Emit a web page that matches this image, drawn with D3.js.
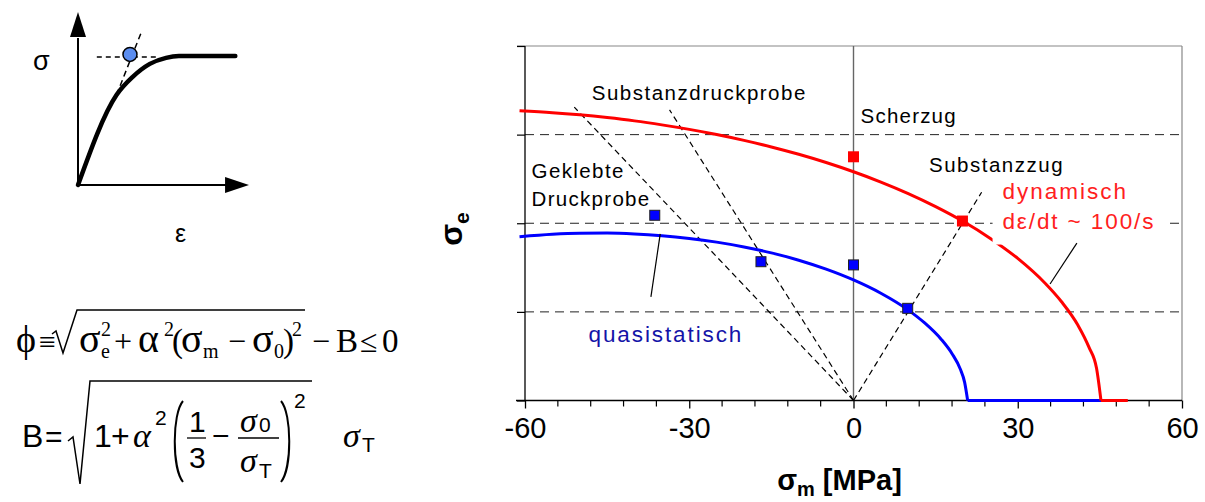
<!DOCTYPE html>
<html><head><meta charset="utf-8">
<script src="https://cdn.jsdelivr.net/npm/d3@7"></script>
<style>
body{margin:0;background:#fff}
svg{display:block;font-family:"Liberation Sans",Arial,sans-serif}
</style>
</head><body><svg id="c" width="1205" height="502"></svg>
<script>
// ---------------- data ----------------
const xTickLabels = [-60, -30, 0, 30, 60];
const yGridValues = [10, 20, 30];
// quasistatic yield surface (sigma_m, sigma_e)
const quasiSm = [-61, -55, -50, -45, -40, -35, -30, -25, -20, -15, -10, -5, 0, 5, 10, 13, 16, 18, 19.5, 20.3, 20.85];
const quasiSe = [18.49, 18.77, 18.88, 18.89, 18.80, 18.60, 18.29, 17.87, 17.33, 16.66, 15.83, 14.82, 13.60, 12.10, 10.20, 8.75, 6.92, 5.28, 3.55, 2.05, 0];
const quasiFlatSm = [20.85, 45.2];
// dynamic yield surface
const dynSm = [-61, -55, -50, -45, -40, -35, -30, -25, -20, -15, -10, -5, 0, 5, 10, 15, 20, 25, 30, 35, 38, 41, 43, 44.4, 45.2];
const dynSe = [32.69, 32.48, 32.23, 31.92, 31.55, 31.10, 30.59, 30.01, 29.35, 28.61, 27.78, 26.85, 25.81, 24.65, 23.35, 21.88, 20.22, 18.29, 16.03, 13.23, 11.14, 8.49, 6.02, 3.6, 0];
const dynFlatSm = [45.2, 50.1];
// measured points
const quasiPtSm = [-36.3, -16.9, 0, 9.9];
const quasiPtSe = [20.9, 15.66, 15.3, 10.4];
const dynPtSm = [0, 19.9];
const dynPtSe = [27.5, 20.25];
// load paths from origin (end points)
const pathNames = ["Geklebte Druckprobe", "Substanzdruckprobe", "Substanzzug"];
const pathEndSm = [-51.0, -33.6, 23.4];
const pathEndSe = [33.1, 32.8, 23.5];
// inset schematic sigma-epsilon curve (arbitrary units)
const insetEps = [0, 2.25, 3.2, 4.2, 5.15, 5.9, 9.2];
const insetSig = [0, 5.2, 6.25, 7.0, 7.35, 7.45, 7.45];

const SANS = "'Liberation Sans', Arial, sans-serif";
const SERIF = "'Liberation Serif', 'Times New Roman', serif";

// ---------------- chart ----------------
const svg = d3.select("#c");
const x = d3.scaleLinear().domain([-60, 60]).range([525, 1182]);
const y = d3.scaleLinear().domain([0, 40]).range([400.5, 46]);

const minorTicks = d3.range(-60, 61, 6);
// grid lines
svg.append("g").selectAll("line").data(yGridValues).join("line")
  .attr("x1", x(-60)).attr("x2", x(60)).attr("y1", d => y(d)).attr("y2", d => y(d))
  .attr("stroke", "#222").attr("stroke-width", 1).attr("stroke-dasharray", "9,6");
// top & right border
svg.append("line").attr("x1", x(-60) - 8).attr("x2", x(60)).attr("y1", y(40)).attr("y2", y(40))
  .attr("stroke", "#888").attr("stroke-width", 1.2);
svg.append("line").attr("x1", x(60)).attr("x2", x(60)).attr("y1", y(40)).attr("y2", y(0))
  .attr("stroke", "#888").attr("stroke-width", 1.2);
// zero vertical
svg.append("line").attr("x1", x(0)).attr("x2", x(0)).attr("y1", y(40)).attr("y2", y(0))
  .attr("stroke", "#666").attr("stroke-width", 1.4);

// axes
const xAxis = d3.axisBottom(x).tickValues(xTickLabels).tickSize(8).tickFormat(d3.format("d"));
const gx = svg.append("g").attr("transform", `translate(0,${y(0)})`).call(xAxis);
gx.select(".domain").remove();
gx.selectAll("line").attr("stroke", "#000").attr("stroke-width", 1.3);
gx.selectAll("text").attr("font-size", 29).attr("dy", "0.92em").attr("fill", "#000")
  .style("font-family", SANS)
  .text(d => d < 0 ? "-" + Math.abs(d) : d);
svg.append("g").selectAll("line").data(minorTicks.filter(d => !xTickLabels.includes(d))).join("line")
  .attr("x1", d => x(d)).attr("x2", d => x(d)).attr("y1", y(0)).attr("y2", y(0) + 6)
  .attr("stroke", "#000").attr("stroke-width", 1.2);
svg.append("line").attr("x1", x(-60) - 9).attr("x2", x(60)).attr("y1", y(0)).attr("y2", y(0))
  .attr("stroke", "#000").attr("stroke-width", 1.3);
const yAxis = d3.axisLeft(y).tickValues([0, 10, 20, 30, 40]).tickSize(8).tickFormat("");
const gy = svg.append("g").attr("transform", `translate(${x(-60)},0)`).call(yAxis);
gy.select(".domain").attr("stroke", "#000").attr("stroke-width", 1.3).attr("d", `M0,${y(40)}V${y(0)}`);
gy.selectAll("line").attr("stroke", "#000").attr("stroke-width", 1.2);

// load paths
svg.append("g").selectAll("line").data(pathEndSm).join("line")
  .attr("x1", x(0)).attr("y1", y(0))
  .attr("x2", d => x(d)).attr("y2", (d, i) => y(pathEndSe[i]))
  .attr("stroke", "#000").attr("stroke-width", 1.2).attr("stroke-dasharray", "6,4");

// curves
const line = d3.line().x(d => x(d[0])).y(d => y(d[1])).curve(d3.curveMonotoneX);
const flat = d3.line().x(d => x(d[0])).y(d => y(d[1]));
const quasi = quasiSm.map((s, i) => [s, quasiSe[i]]);
const dyn = dynSm.map((s, i) => [s, dynSe[i]]);
svg.append("path").attr("d", flat(quasiFlatSm.map(s => [s, 0]))).attr("fill", "none").attr("stroke", "#0000ff").attr("stroke-width", 3);
svg.append("path").attr("d", flat(dynFlatSm.map(s => [s, 0]))).attr("fill", "none").attr("stroke", "#ff0000").attr("stroke-width", 3);
svg.append("path").attr("d", line(quasi)).attr("fill", "none").attr("stroke", "#0000ff").attr("stroke-width", 3);
svg.append("path").attr("d", line(dyn)).attr("fill", "none").attr("stroke", "#ff0000").attr("stroke-width", 3);

// label boxes & labels
svg.append("rect").attr("x", x(25.4)).attr("y", y(25)).attr("width", x(57.8) - x(25.4)).attr("height", y(17.6) - y(25))
  .attr("fill", "#fff");
const lbl = (t, sm, se, opts = {}) => svg.append("text").attr("x", x(sm)).attr("y", y(se))
  .attr("font-size", opts.size || 20.5).attr("letter-spacing", opts.ls || 1.5)
  .attr("fill", opts.fill || "#000").style("font-family", SANS).text(t);
lbl("Substanzdruckprobe", -47.8, 33.9);
lbl("Scherzug", 1.3, 31.3, {ls: 1.2});
lbl("Substanzzug", 13.8, 25.8);
lbl("Geklebte", -58.8, 25.1, {ls: 1.4});
lbl("Druckprobe", -58.8, 22.0, {ls: 1.3});
lbl("dynamisch", 27.2, 22.7, {size: 22.5, ls: 2.0, fill: "#ff2020"});
lbl("d\u03b5/dt ~ 100/s", 27.2, 19.3, {size: 22.5, ls: 1.9, fill: "#ff2020"});
lbl("quasistatisch", -48.4, 6.65, {size: 22.5, ls: 1.9, fill: "#1414a8"});

// leader lines
svg.append("line").attr("x1", x(40.8)).attr("y1", y(17.76)).attr("x2", x(35.9)).attr("y2", y(13.15))
  .attr("stroke", "#000").attr("stroke-width", 1.2);
svg.append("line").attr("x1", x(-37.0)).attr("y1", y(11.7)).attr("x2", x(-35.3)).attr("y2", y(18.8))
  .attr("stroke", "#000").attr("stroke-width", 1.2);

// markers
svg.append("g").selectAll("rect").data(quasiPtSm).join("rect")
  .attr("x", d => x(d) - 5).attr("y", (d, i) => y(quasiPtSe[i]) - 5).attr("width", 10).attr("height", 10)
  .attr("fill", "#0000ff").attr("stroke", "#222").attr("stroke-width", 1);
svg.append("g").selectAll("rect").data(dynPtSm).join("rect")
  .attr("x", d => x(d) - 5.5).attr("y", (d, i) => y(dynPtSe[i]) - 5.5).attr("width", 11).attr("height", 11)
  .attr("fill", "#ff0000");

// axis titles
const xt = svg.append("text").attr("x", x(0) - 14).attr("y", 490).attr("text-anchor", "middle")
  .attr("font-size", 29).attr("font-weight", "bold").style("font-family", SANS);
xt.append("tspan").text("\u03c3");
xt.append("tspan").attr("font-size", 20).attr("dy", 6).text("m");
xt.append("tspan").attr("dy", -6).text(" [MPa]");
const yt = svg.append("text").attr("transform", "translate(462,229) rotate(-90)").attr("text-anchor", "middle")
  .attr("font-size", 32).attr("font-weight", "bold").style("font-family", SANS);
yt.append("tspan").text("\u03c3");
yt.append("tspan").attr("font-size", 21).attr("dy", 7).text("e");

// ---------------- inset ----------------
const ix = d3.scaleLinear().domain([0, 10]).range([78, 249]);
const iy = d3.scaleLinear().domain([0, 10]).range([185, 12]);
const ig = svg.append("g");
ig.append("line").attr("x1", ix(0)).attr("y1", iy(0)).attr("x2", ix(0)).attr("y2", iy(8.5)).attr("stroke", "#000").attr("stroke-width", 2);
ig.append("line").attr("x1", ix(0)).attr("y1", iy(0)).attr("x2", ix(8.7)).attr("y2", iy(0)).attr("stroke", "#000").attr("stroke-width", 2);
ig.append("path").attr("d", `M${ix(0)-8},${iy(8.55)}L${ix(0)},${iy(10)}L${ix(0)+8},${iy(8.55)}Z`).attr("fill", "#000");
ig.append("path").attr("d", `M${ix(8.6)},${iy(0)-8}L${ix(10)},${iy(0)}L${ix(8.6)},${iy(0)+8}Z`).attr("fill", "#000");
ig.append("line").attr("x1", ix(1.1)).attr("y1", iy(7.4)).attr("x2", ix(4.7)).attr("y2", iy(7.4))
  .attr("stroke", "#000").attr("stroke-width", 1.5).attr("stroke-dasharray", "5,4");
ig.append("line").attr("x1", ix(2.25)).attr("y1", iy(5.2)).attr("x2", ix(3.75)).attr("y2", iy(8.95))
  .attr("stroke", "#000").attr("stroke-width", 1.5).attr("stroke-dasharray", "6,4");
ig.append("path").attr("d", d3.line().x(d => ix(d[0])).y(d => iy(d[1])).curve(d3.curveMonotoneX)(insetEps.map((e, i) => [e, insetSig[i]])))
  .attr("fill", "none").attr("stroke", "#000").attr("stroke-width", 4.5).attr("stroke-linecap", "round");
ig.append("circle").attr("cx", ix(3.04)).attr("cy", iy(7.55)).attr("r", 7)
  .attr("fill", "#5b8def").attr("stroke", "#000").attr("stroke-width", 1.5);
ig.append("text").attr("x", 33).attr("y", 70).attr("font-size", 27).style("font-family", SANS).text("\u03c3");
ig.append("text").attr("x", 175).attr("y", 242).attr("font-size", 25).style("font-family", SANS).text("\u03b5");

// ---------------- formulas ----------------
const f = svg.append("g");
const ft = (t, xx, yy, size, opts = {}) => f.append("text").attr("x", xx).attr("y", yy)
  .attr("font-size", size).attr("font-style", opts.italic ? "italic" : null)
  .style("font-family", opts.sans ? SANS : SERIF).text(t);
// formula 1 (serif)
const b1 = 352;
ft("\u03d5", 16, b1, 38);
ft("\u2261", 39, b1, 30);
f.append("path").attr("d", "M52,334 L56,331 L63,353 L77,310 L305,310").attr("fill", "none").attr("stroke", "#000").attr("stroke-width", 1.5);
ft("\u03c3", 79, b1, 40); ft("2", 101, b1 - 16, 20); ft("e", 101, b1 + 6, 20);
ft("+", 114, b1, 32);
ft("\u03b1", 138, b1, 40); ft("2", 164, b1 - 16, 20);
ft("(", 172, b1, 33);
ft("\u03c3", 181, b1, 40); ft("m", 203, b1 + 6, 20);
ft("\u2212", 228, b1, 32);
ft("\u03c3", 252, b1, 40); ft("0", 274, b1 + 6, 20);
ft(")", 283, b1, 33); ft("2", 292, b1 - 16, 20);
ft("\u2212", 312, b1, 32);
ft("B", 336, b1, 33);
ft("\u2264", 360, b1, 32);
ft("0", 382, b1, 33);
// formula 2
const b2 = 447;
ft("B", 22, b2, 32, {sans: true});
ft("=", 45, b2, 30, {sans: true});
f.append("path").attr("d", "M68,441 L73,437 L80,484 L90,381 L312,381").attr("fill", "none").attr("stroke", "#000").attr("stroke-width", 1.5);
ft("1", 94, b2, 32, {sans: true});
ft("+", 111, b2, 32, {sans: true});
ft("\u03b1", 133, b2, 34, {italic: true});
ft("2", 155, b2 - 22, 21, {sans: true});
f.append("path").attr("d", "M183,401 C172,414 172,468 183,482").attr("fill", "none").attr("stroke", "#000").attr("stroke-width", 2);
ft("1", 189, 432, 30, {sans: true});
f.append("line").attr("x1", 187).attr("x2", 206).attr("y1", 438).attr("y2", 438).attr("stroke", "#000").attr("stroke-width", 1.3);
ft("3", 189, 468, 30, {sans: true});
ft("\u2212", 212, b2 - 1, 30, {sans: true});
ft("\u03c3", 240, 432, 34, {italic: true}); ft("0", 259, 432, 21, {sans: true});
f.append("line").attr("x1", 238).attr("x2", 279).attr("y1", 438).attr("y2", 438).attr("stroke", "#000").attr("stroke-width", 1.3);
ft("\u03c3", 240, 472, 34, {italic: true}); ft("T", 259, 478, 21, {sans: true});
f.append("path").attr("d", "M281,401 C292,414 292,468 281,482").attr("fill", "none").attr("stroke", "#000").attr("stroke-width", 2);
ft("2", 294, 408, 21, {sans: true});
ft("\u03c3", 343, b2, 34, {italic: true}); ft("T", 362, b2 + 5, 21, {sans: true});
</script>
</body></html>
